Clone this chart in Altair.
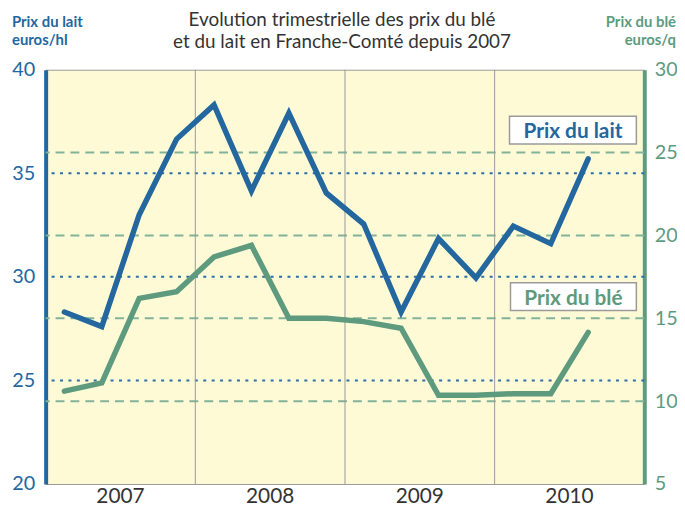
import altair as alt
import pandas as pd

# ---- data ----
periodes = ["2007 T1", "2007 T2", "2007 T3", "2007 T4",
            "2008 T1", "2008 T2", "2008 T3", "2008 T4",
            "2009 T1", "2009 T2", "2009 T3", "2009 T4",
            "2010 T1", "2010 T2", "2010 T3"]
prix_lait = [28.3, 27.6, 33.0, 36.65, 38.3, 34.15, 37.9, 34.05,
             32.55, 28.3, 31.85, 29.95, 32.45, 31.6, 35.7]
prix_ble = [10.6, 11.1, 16.2, 16.6, 18.7, 19.4, 15.0, 15.0,
            14.8, 14.4, 10.35, 10.35, 10.45, 10.45, 14.15]
annees = ["2007", "2008", "2009", "2010"]
lait_ticks = [20, 25, 30, 35, 40]
ble_ticks = [5, 10, 15, 20, 25, 30]
grille_lait = [25, 30, 35]
grille_ble = [10, 15, 20, 25]

BLUE = "#23679E"
GREEN = "#5E9A7E"
GREEN_GRID = "#82B29A"
BLUE_GRID = "#2B6EA8"
FONT = "Lato"
W, H = 604, 418


def pos(p):
    y, q = p.split(" T")
    return int(y) + (int(q) - 0.5) / 4


df = pd.DataFrame({"periode": periodes, "t": [pos(p) for p in periodes],
                   "lait": prix_lait, "ble": prix_ble})
quarter_bounds = [int(a) + k / 4 for a in annees for k in range(4)][1:]
years_df = pd.DataFrame({"annee": annees, "mid": [int(a) + 0.5 for a in annees]})
ydiv_df = pd.DataFrame({"b": [int(a) for a in annees[1:]]})

xscale = alt.Scale(domain=[2007, 2011], nice=False, zero=False)
lait_scale = alt.Scale(domain=[20, 40], nice=False, zero=False)
ble_scale = alt.Scale(domain=[5, 30], nice=False, zero=False)
one = pd.DataFrame({"k": [0]})

grid_ble = alt.Chart(pd.DataFrame({"v": grille_ble})).mark_rule(
    color=GREEN_GRID, strokeWidth=2, strokeDash=[9, 6]
).encode(y=alt.Y("v:Q", scale=ble_scale, axis=None))

grid_lait = alt.Chart(pd.DataFrame({"v": grille_lait})).mark_rule(
    color=BLUE_GRID, strokeWidth=2, strokeDash=[3, 5.5]
).encode(y=alt.Y("v:Q", scale=lait_scale, axis=None))

vgrid = alt.Chart(ydiv_df).mark_rule(color="#9a9a9a", strokeWidth=1).encode(
    x=alt.X("b:Q", scale=xscale, axis=None))

line_ble = alt.Chart(df).mark_line(
    color=GREEN, strokeWidth=5.5, strokeCap="round", strokeJoin="miter"
).encode(
    x=alt.X("t:Q", scale=xscale,
            axis=alt.Axis(values=quarter_bounds, labels=False, ticks=True, tickSize=6,
                          tickColor="#9a9a9a", domainColor="#9a9a9a", domainWidth=1,
                          grid=False, title=None)),
    y=alt.Y("ble:Q", scale=ble_scale,
            axis=alt.Axis(orient="right", values=ble_ticks, ticks=False, grid=False,
                          domainColor=GREEN, domainWidth=4, labelColor=GREEN,
                          labelFontSize=20, labelFont=FONT, labelPadding=10,
                          labelFlush=False, labelOverlap=False, title=None)),
)

line_lait = alt.Chart(df).mark_line(
    color=BLUE, strokeWidth=5.5, strokeCap="round", strokeJoin="miter"
).encode(
    x=alt.X("t:Q", scale=xscale, axis=None),
    y=alt.Y("lait:Q", scale=lait_scale,
            axis=alt.Axis(orient="left", values=lait_ticks, ticks=False, grid=False,
                          domainColor=BLUE, domainWidth=4, labelColor=BLUE,
                          labelFontSize=20, labelFont=FONT, labelPadding=11,
                          labelFlush=False, labelOverlap=False, title=None)),
)

year_labels = alt.Chart(years_df).mark_text(
    font=FONT, fontSize=21, color="#333333", baseline="alphabetic", align="center"
).encode(x=alt.X("mid:Q", scale=xscale, axis=None), y=alt.value(437), text="annee:N")

box_lait = alt.Chart(one).mark_rect(fill="white", stroke="#9a9a9a", strokeWidth=1.5).encode(
    x=alt.value(468), x2=alt.value(596), y=alt.value(47), y2=alt.value(75))
box_ble = alt.Chart(one).mark_rect(fill="white", stroke="#9a9a9a", strokeWidth=1.5).encode(
    x=alt.value(469), x2=alt.value(596), y=alt.value(215), y2=alt.value(243))

txt_lait = alt.Chart(one).mark_text(
    text="Prix du lait", font=FONT, fontSize=21, fontWeight="bold", color=BLUE,
    align="center", baseline="alphabetic").encode(x=alt.value(532), y=alt.value(69))
txt_ble = alt.Chart(one).mark_text(
    text="Prix du blé", font=FONT, fontSize=21, fontWeight="bold", color=GREEN,
    align="center", baseline="alphabetic").encode(x=alt.value(532.5), y=alt.value(237))

title = alt.Chart(one).mark_text(
    text="Evolution trimestrielle des prix du blé\net du lait en Franche-Comté depuis 2007",
    lineBreak="\n", lineHeight=22, font=FONT, fontSize=19,
    color="#333333", align="center", baseline="alphabetic"
).encode(x=alt.value(299), y=alt.value(-44))

lt = alt.Chart(one).mark_text(
    text="Prix du lait\neuros/hl", lineBreak="\n", lineHeight=18, font=FONT,
    fontSize=15, fontWeight="bold", color=BLUE,
    align="left", baseline="alphabetic").encode(x=alt.value(-34), y=alt.value(-43))
rt = alt.Chart(one).mark_text(
    text="Prix du blé\neuros/q", lineBreak="\n", lineHeight=18, font=FONT,
    fontSize=15, fontWeight="bold", color=GREEN,
    align="right", baseline="alphabetic").encode(x=alt.value(636), y=alt.value(-43))

chart = alt.layer(
    grid_ble, grid_lait, vgrid, line_ble, line_lait, year_labels,
    box_lait, box_ble, txt_lait, txt_ble, title, lt, rt
).resolve_scale(y="independent").properties(
    width=W, height=H,
    autosize=alt.AutoSizeParams(type="none"),
    padding={"left": 38, "top": 60, "right": 33, "bottom": 27},
    background="white",
).configure_view(fill="#FEFAD6", stroke="#9a9a9a", strokeWidth=1)

chart.save("out.html", embed_options={"renderer": "svg", "actions": False})
